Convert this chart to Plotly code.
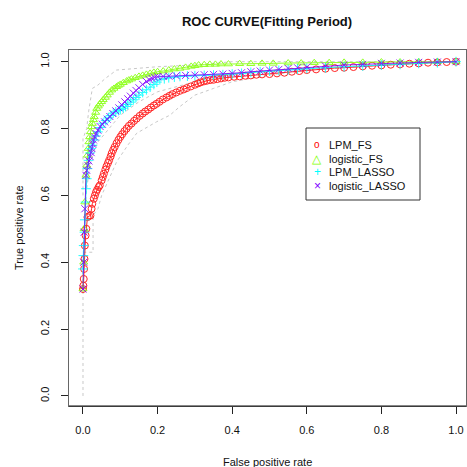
import plotly.graph_objects as go

# ---- data ----
lpm_fs_fpr = [0, 0.001, 0.002, 0.003, 0.004, 0.005, 0.007, 0.009, 0.012, 0.016, 0.02, 0.023, 0.025, 0.029, 0.032,
              0.035, 0.038, 0.042, 0.045, 0.05, 0.053, 0.056, 0.06, 0.063, 0.067, 0.07, 0.074, 0.077, 0.081, 0.085,
              0.09, 0.095, 0.1, 0.105, 0.111, 0.117, 0.123, 0.13, 0.137, 0.144, 0.152, 0.16, 0.167, 0.175, 0.182,
              0.19, 0.197, 0.205, 0.214, 0.224, 0.232, 0.24, 0.25, 0.26, 0.27, 0.278, 0.289, 0.30, 0.308, 0.315,
              0.324, 0.332, 0.341, 0.35, 0.36, 0.37, 0.38, 0.39, 0.405, 0.42, 0.435, 0.45, 0.465, 0.48, 0.5, 0.52,
              0.54, 0.56, 0.58, 0.60, 0.625, 0.65, 0.675, 0.70, 0.725, 0.75, 0.775, 0.80, 0.825, 0.85, 0.875,
              0.90, 0.925, 0.95, 0.975, 1.0]
lpm_fs_tpr = [0.32, 0.33, 0.35, 0.38, 0.41, 0.45, 0.48, 0.50, 0.535, 0.538, 0.54, 0.56, 0.575, 0.59, 0.60,
              0.61, 0.617, 0.625, 0.63, 0.645, 0.655, 0.665, 0.677, 0.687, 0.697, 0.705, 0.716, 0.726, 0.736, 0.745,
              0.756, 0.766, 0.775, 0.783, 0.792, 0.80, 0.808, 0.815, 0.823, 0.83, 0.838, 0.845, 0.851, 0.857, 0.863,
              0.869, 0.874, 0.88, 0.887, 0.893, 0.898, 0.903, 0.908, 0.913, 0.917, 0.921, 0.926, 0.931, 0.935, 0.938,
              0.941, 0.943, 0.945, 0.946, 0.948, 0.950, 0.952, 0.953, 0.955, 0.956, 0.958, 0.959, 0.961, 0.962,
              0.963, 0.965, 0.967, 0.970, 0.972, 0.975, 0.977, 0.979, 0.981, 0.982, 0.984, 0.986, 0.988, 0.989,
              0.991, 0.992, 0.994, 0.995, 0.997, 0.998, 0.999, 1.0]

logit_fs_fpr = [0, 0.002, 0.003, 0.005, 0.008, 0.01, 0.012, 0.014, 0.016, 0.018, 0.02, 0.023, 0.025, 0.028, 0.03,
                0.034, 0.037, 0.041, 0.045, 0.05, 0.054, 0.06, 0.065, 0.071, 0.077, 0.083, 0.09, 0.095, 0.10, 0.108,
                0.117, 0.123, 0.13, 0.14, 0.15, 0.16, 0.17, 0.18, 0.19, 0.2, 0.215, 0.23, 0.245, 0.26, 0.275, 0.29,
                0.30, 0.31, 0.325, 0.34, 0.355, 0.37, 0.39, 0.42, 0.45, 0.48, 0.51, 0.55, 0.585, 0.62, 0.66, 0.7,
                0.75, 0.8, 0.85, 0.9, 0.95, 1.0]
logit_fs_tpr = [0.32, 0.40, 0.50, 0.58, 0.66, 0.69, 0.72, 0.74, 0.76, 0.775, 0.79, 0.805, 0.815, 0.826, 0.835,
                0.848, 0.86, 0.867, 0.873, 0.88, 0.886, 0.893, 0.90, 0.908, 0.915, 0.92, 0.925, 0.929, 0.932, 0.937,
                0.942, 0.945, 0.948, 0.952, 0.956, 0.959, 0.962, 0.965, 0.968, 0.97, 0.972, 0.975, 0.978, 0.98,
                0.983, 0.986, 0.988, 0.99, 0.991, 0.992, 0.992, 0.993, 0.993, 0.994, 0.994, 0.995, 0.995, 0.996,
                0.996, 0.997, 0.997, 0.998, 0.998, 0.999, 0.999, 1.0, 1.0, 1.0]

lpm_lasso_fpr = [0, 0.001, 0.002, 0.004, 0.005, 0.007, 0.008, 0.01, 0.012, 0.015, 0.019, 0.022, 0.025, 0.03, 0.035,
                 0.04, 0.047, 0.054, 0.061, 0.068, 0.075, 0.081, 0.088, 0.095, 0.1, 0.108, 0.114, 0.12, 0.128, 0.135,
                 0.142, 0.15, 0.16, 0.17, 0.18, 0.19, 0.198, 0.206, 0.218, 0.23, 0.245, 0.26, 0.28, 0.3, 0.325, 0.35,
                 0.375, 0.4, 0.425, 0.45, 0.475, 0.5, 0.525, 0.55, 0.575, 0.6, 0.65, 0.7, 0.75, 0.8, 0.85, 0.9,
                 0.95, 1.0]
lpm_lasso_tpr = [0.38, 0.42, 0.45, 0.49, 0.527, 0.58, 0.62, 0.65, 0.68, 0.705, 0.727, 0.74, 0.75, 0.766, 0.778,
                 0.79, 0.803, 0.816, 0.824, 0.832, 0.839, 0.846, 0.85, 0.854, 0.857, 0.861, 0.866, 0.872, 0.879, 0.886,
                 0.893, 0.90, 0.908, 0.916, 0.924, 0.932, 0.939, 0.946, 0.949, 0.952, 0.954, 0.956, 0.957, 0.958,
                 0.959, 0.96, 0.961, 0.963, 0.965, 0.968, 0.97, 0.972, 0.974, 0.976, 0.978, 0.98, 0.982, 0.985,
                 0.987, 0.99, 0.992, 0.995, 0.997, 1.0]

logit_lasso_fpr = [0, 0.002, 0.003, 0.005, 0.008, 0.01, 0.013, 0.016, 0.019, 0.022, 0.024, 0.026, 0.028, 0.031,
                   0.035, 0.04, 0.046, 0.052, 0.058, 0.065, 0.072, 0.08, 0.088, 0.096, 0.104, 0.112, 0.12, 0.127,
                   0.135, 0.142, 0.15, 0.16, 0.17, 0.178, 0.185, 0.192, 0.2, 0.215, 0.23, 0.25, 0.275, 0.3, 0.325,
                   0.35, 0.375, 0.4, 0.425, 0.45, 0.475, 0.5, 0.525, 0.55, 0.575, 0.6, 0.65, 0.7, 0.75, 0.8, 0.85,
                   0.9, 0.95, 1.0]
logit_lasso_tpr = [0.32, 0.40, 0.49, 0.56, 0.66, 0.675, 0.69, 0.703, 0.716, 0.728, 0.74, 0.753, 0.766, 0.775,
                   0.785, 0.795, 0.806, 0.813, 0.82, 0.828, 0.836, 0.845, 0.853, 0.862, 0.871, 0.88, 0.889, 0.897,
                   0.906, 0.914, 0.922, 0.932, 0.941, 0.946, 0.95, 0.953, 0.955, 0.956, 0.957, 0.958, 0.959, 0.96,
                   0.961, 0.962, 0.963, 0.965, 0.967, 0.97, 0.972, 0.975, 0.977, 0.98, 0.982, 0.984, 0.987, 0.99,
                   0.992, 0.995, 0.996, 0.998, 0.999, 1.0]

# gray dotted envelope lines
upper_fpr = [0, 0, 0.01, 0.015, 0.025, 0.04, 0.06, 0.09, 0.2, 0.3, 0.4, 1.0]
upper_tpr = [0.60, 0.77, 0.80, 0.85, 0.92, 0.93, 0.95, 0.975, 0.985, 0.99, 1.0, 1.0]
middle_fpr = [0.005, 0.01, 0.02, 0.04, 0.07, 0.1, 0.15, 0.2, 0.3, 0.4, 0.6, 1.0]
middle_tpr = [0.55, 0.62, 0.70, 0.76, 0.80, 0.84, 0.88, 0.91, 0.94, 0.96, 0.98, 1.0]
lower_fpr = [0, 0, 0.027, 0.027, 0.04, 0.05, 0.07, 0.09, 0.12, 0.144, 0.197, 0.233, 0.26, 0.3, 0.35, 0.4, 0.5,
             0.6, 0.8, 1.0]
lower_tpr = [0, 0.43, 0.43, 0.54, 0.56, 0.60, 0.65, 0.70, 0.75, 0.786, 0.82, 0.84, 0.866, 0.90, 0.92, 0.94, 0.96,
             0.975, 0.99, 1.0]

x_ticks = [0, 0.2, 0.4, 0.6, 0.8, 1.0]
tick_labels = ["0.0", "0.2", "0.4", "0.6", "0.8", "1.0"]

series_names = ["LPM_FS", "logistic_FS", "LPM_LASSO", "logistic_LASSO"]
series_colors = ["#FF0000", "#80FF00", "#00FFFF", "#8000FF"]
series_symbols = ["circle-open", "triangle-up-open", "cross-thin-open", "x-thin-open"]
legend_glyphs = ["o", "△", "+", "×"]
series_x = [lpm_fs_fpr, logit_fs_fpr, lpm_lasso_fpr, logit_lasso_fpr]
series_y = [lpm_fs_tpr, logit_fs_tpr, lpm_lasso_tpr, logit_lasso_tpr]

fig = go.Figure()
for fx, fy in [(upper_fpr, upper_tpr), (middle_fpr, middle_tpr), (lower_fpr, lower_tpr)]:
    fig.add_trace(go.Scatter(x=fx, y=fy, mode="lines", showlegend=False, hoverinfo="skip",
                             line=dict(color="#C8C8C8", width=1, dash="dot")))

for name, fx, fy, col, sym in zip(series_names, series_x, series_y, series_colors, series_symbols):
    fig.add_trace(go.Scatter(x=fx, y=fy, mode="lines+markers", name=name, showlegend=False,
                             line=dict(color=col, width=1), opacity=0.85,
                             marker=dict(symbol=sym, size=7, color=col, line=dict(color=col, width=1))))

# custom legend (R style): box + rows of symbol + label
plot_l, plot_t, plot_w, plot_h = 69, 50, 397, 356
def px_x(p):
    return (p - plot_l) / plot_w
def px_y(p):
    return 1 - (p - plot_t) / plot_h

annotations = []
row_y = [145, 158.5, 172, 185.5]
for i, name in enumerate(series_names):
    glyph_size = 10 if legend_glyphs[i] == "o" else 12
    annotations.append(dict(
        text=f"<span style='color:{series_colors[i]};font-size:{glyph_size}px'>{legend_glyphs[i]}</span>",
        xref="paper", yref="paper", x=px_x(317), y=px_y(row_y[i]), xanchor="center", yanchor="middle",
        showarrow=False))
    annotations.append(dict(
        text=name, xref="paper", yref="paper", x=px_x(327), y=px_y(row_y[i]),
        xanchor="left", yanchor="middle", showarrow=False, font=dict(size=11)))

annotations += [
    dict(text="False positive rate", xref="paper", yref="paper", x=0.5, y=-56 / 356,
         xanchor="center", yanchor="middle", showarrow=False, font=dict(size=11)),
    dict(text="True positive rate", xref="paper", yref="paper", x=-(69 - 19) / 397, y=0.5,
         xanchor="center", yanchor="middle", showarrow=False, textangle=-90, font=dict(size=11)),
]

font_family = "Liberation Sans, Arial, sans-serif"
fig.update_layout(
    width=467, height=467,
    margin=dict(l=69, r=1, t=50, b=61),
    plot_bgcolor="white", paper_bgcolor="white",
    font=dict(family=font_family, size=11, color="#111"),
    title=dict(text="<b>ROC CURVE(Fitting Period)</b>", x=267 / 467, xanchor="center",
               y=1 - 21 / 467, yanchor="middle", font=dict(size=13, color="#111")),
    xaxis=dict(range=[-0.0375, 1.0268], tickvals=x_ticks, ticktext=tick_labels, ticks="outside",
               ticklen=7, tickcolor="#222", showgrid=False, zeroline=False, showline=True, mirror=True,
               linecolor="#666", linewidth=1, ticklabelstandoff=7),
    yaxis=dict(range=[-0.03, 1.035], tickvals=x_ticks, ticktext=tick_labels, ticks="outside",
               ticklen=7, tickcolor="#222", showgrid=False, zeroline=False, showline=True, mirror=True,
               linecolor="#666", linewidth=1, tickangle=-90, ticklabelstandoff=8),
    showlegend=False,
    shapes=[
        dict(type="rect", xref="paper", yref="paper", x0=px_x(306), x1=px_x(420),
             y0=px_y(200), y1=px_y(128), line=dict(color="#333", width=1), fillcolor="white",
             layer="above"),
        dict(type="line", xref="paper", yref="paper", x0=0, x1=1, y0=0, y1=0,
             line=dict(color="#111", width=1), layer="above"),
    ],
    annotations=annotations,
)
fig.write_html("out.html", config={"displayModeBar": False},
               post_script="document.body.style.margin='0';document.body.style.padding='0';")
